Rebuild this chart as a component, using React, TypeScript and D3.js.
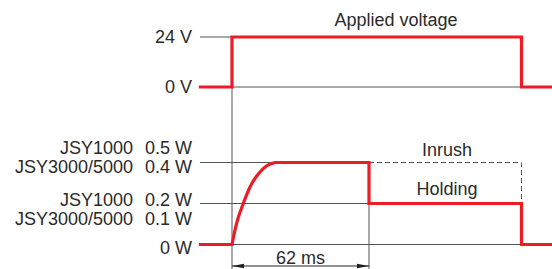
import React, { useEffect, useRef } from 'react';
import * as d3 from 'd3';

// time in ms, voltage in V
const voltageSteps: [number, number][] = [
  [-15, 0], [0, 0], [0, 24], [131, 24], [131, 0], [145, 0],
];
// power as level: 1 = inrush, 0.5 = holding
const riseCurve: [number, number][] = [
  [0, 0], [2.1, 0.26], [5.1, 0.5], [8.9, 0.74], [11.9, 0.86], [15.7, 0.96], [19.5, 1],
];
const powerBefore: [number, number][] = [[-15, 0], [0, 0]];
const powerAfter: [number, number][] = [
  [19.5, 1], [62, 1], [62, 0.5], [131, 0.5], [131, 0], [145, 0],
];
const inrushDashed: [number, number][] = [[62, 1], [131, 1], [131, 0.55]];

const voltageTicks = [
  { label: '24 V', value: 24 },
  { label: '0 V', value: 0 },
];
const powerTicks = [
  { level: 1, model: 'JSY1000', watt: '0.5 W', dy: -8.5 },
  { level: 1, model: 'JSY3000/5000', watt: '0.4 W', dy: 10.5 },
  { level: 0.5, model: 'JSY1000', watt: '0.2 W', dy: 2.5 },
  { level: 0.5, model: 'JSY3000/5000', watt: '0.1 W', dy: 21.5 },
  { level: 0, model: '', watt: '0 W', dy: 9.5 },
];
const onTime = 0;
const inrushTime = 62;
const offTime = 131;

const RED = '#ed1c24';
const GRAY = '#555';
const TEXT = '#2a2a2a';
const FONT = 'Liberation Sans, Arial, sans-serif';

const App = () => {
  const svgRef = useRef<SVGSVGElement>(null);

  useEffect(() => {
    const width = 552;
    const height = 269;
    const svg = d3.select(svgRef.current);
    svg.selectAll('*').remove();
    svg.attr('width', width).attr('height', height);

    const x = d3.scaleLinear().domain([0, 62]).range([232, 369]);
    const yV = d3.scaleLinear().domain([0, 24]).range([87, 37]);
    const yP = d3.scaleLinear().domain([0, 1]).range([244.5, 162.5]);
    const tickStart = 200;

    const thin = (g: any) => g.attr('stroke', GRAY).attr('stroke-width', 1).attr('fill', 'none');

    // voltage guide lines
    svg.append('line').call(thin)
      .attr('x1', tickStart).attr('x2', x(onTime)).attr('y1', yV(24)).attr('y2', yV(24));
    svg.append('line').call(thin)
      .attr('x1', x(onTime)).attr('x2', x(offTime)).attr('y1', yV(0)).attr('y2', yV(0));

    // power guide lines
    svg.append('line').call(thin)
      .attr('x1', tickStart).attr('x2', x(20)).attr('y1', yP(1)).attr('y2', yP(1));
    svg.append('line').call(thin)
      .attr('x1', tickStart).attr('x2', x(inrushTime)).attr('y1', yP(0.5)).attr('y2', yP(0.5));
    svg.append('line').call(thin)
      .attr('x1', x(onTime)).attr('x2', x(offTime)).attr('y1', yP(0)).attr('y2', yP(0));

    // vertical guides
    svg.append('line').call(thin)
      .attr('x1', x(onTime)).attr('x2', x(onTime)).attr('y1', yV(0)).attr('y2', height);
    svg.append('line').call(thin)
      .attr('x1', x(inrushTime)).attr('x2', x(inrushTime)).attr('y1', yP(0.5)).attr('y2', height);

    // dashed inrush outline
    svg.append('path').call(thin)
      .attr('stroke-dasharray', '5,3')
      .attr('d', d3.line()(inrushDashed.map(d => [x(d[0]), yP(d[1])])));

    // red traces
    const stepLine = d3.line();
    svg.append('path')
      .attr('d', stepLine(voltageSteps.map(d => [x(d[0]), yV(d[1])])))
      .attr('fill', 'none').attr('stroke', RED).attr('stroke-width', 3.2)
      .attr('stroke-linejoin', 'miter');

    const curveLine = d3.line().curve(d3.curveMonotoneX);
    const powerPath =
      (stepLine(powerBefore.map(d => [x(d[0]), yP(d[1])])) || '') +
      (curveLine(riseCurve.map(d => [x(d[0]), yP(d[1])])) || '').replace(/^M/, 'L') +
      (stepLine(powerAfter.map(d => [x(d[0]), yP(d[1])])) || '').replace(/^M/, 'L');
    svg.append('path')
      .attr('d', powerPath)
      .attr('fill', 'none').attr('stroke', RED).attr('stroke-width', 3.2)
      .attr('stroke-linejoin', 'miter');

    // dimension arrow
    const defs = svg.append('defs');
    defs.append('marker')
      .attr('id', 'arr').attr('viewBox', '0 0 12 6').attr('refX', 12).attr('refY', 3)
      .attr('markerWidth', 12).attr('markerHeight', 6).attr('markerUnits', 'userSpaceOnUse')
      .attr('orient', 'auto-start-reverse')
      .append('path').attr('d', 'M0,0.8L12,3L0,5.2Z').attr('fill', '#222');
    svg.append('line')
      .attr('x1', x(onTime)).attr('x2', x(inrushTime)).attr('y1', 266).attr('y2', 266)
      .attr('stroke', '#222').attr('stroke-width', 1)
      .attr('marker-start', 'url(#arr)').attr('marker-end', 'url(#arr)');

    const text = (t: string, tx: number, ty: number, anchor: string) =>
      svg.append('text')
        .attr('x', tx).attr('y', ty).attr('text-anchor', anchor)
        .attr('font-family', FONT).attr('font-size', 18).attr('fill', TEXT)
        .text(t);

    text(`${inrushTime} ms`, (x(onTime) + x(inrushTime)) / 2, 264, 'middle');
    text('Applied voltage', 396, 26, 'middle');
    text('Inrush', 447, 156, 'middle');
    text('Holding', 447, 195, 'middle');

    voltageTicks.forEach(d => text(d.label, 192, yV(d.value) + 6, 'end'));
    powerTicks.forEach(d => {
      text(d.watt, 192, yP(d.level) + d.dy, 'end');
      if (d.model) text(d.model, 133, yP(d.level) + d.dy, 'end');
    });
  }, []);

  return (
    <div style={{ position: 'absolute', left: 0, top: 0 }}>
      <svg ref={svgRef} style={{ display: 'block', background: '#fff' }}></svg>
    </div>
  );
};

export default App;
